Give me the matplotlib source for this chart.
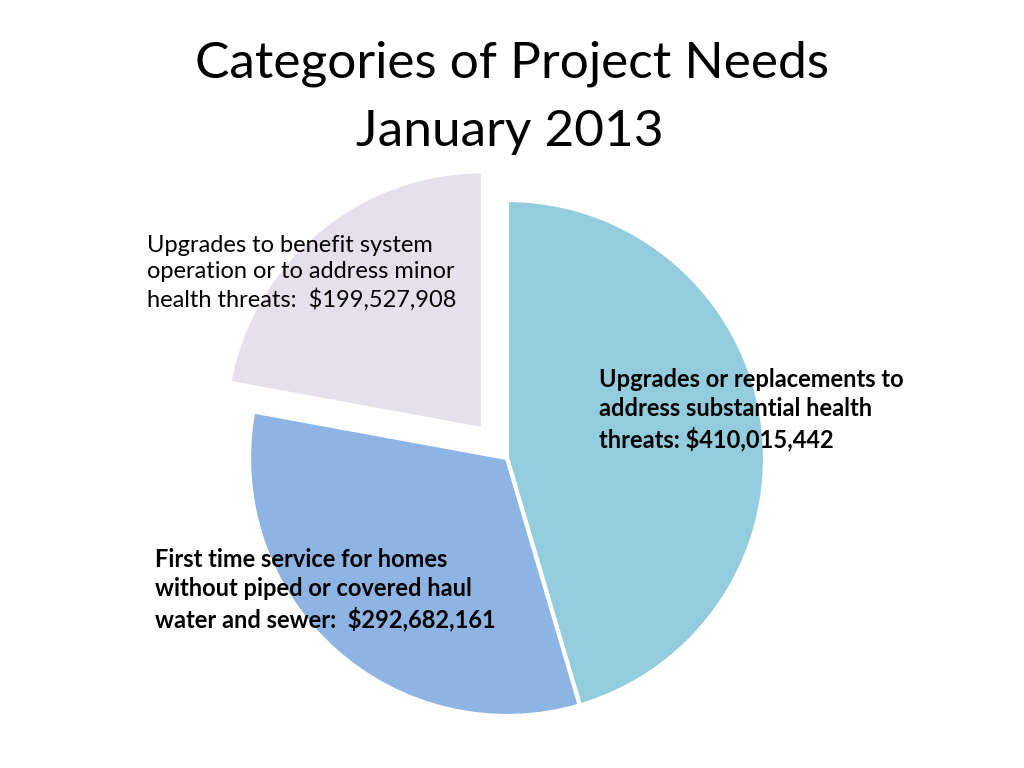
import matplotlib.pyplot as plt

# data
categories = [
    "Upgrades or replacements to\naddress substantial health\nthreats:",
    "First time service for homes\nwithout piped or covered haul\nwater and sewer: ",
    "Upgrades to benefit system\noperation or to address minor\nhealth threats: ",
]
values = [410015442, 292682161, 199527908]
colors = ["#93CDDD", "#8EB4E3", "#E6E0EC"]

plt.rcParams['font.family'] = ['Lato', 'DejaVu Sans']

fig = plt.figure(figsize=(10.24, 7.68), dpi=100)
ax = fig.add_axes([0, 0, 1, 1])

# pie in pixel-like coordinates (y up); explode is in data units here
r = 258
ax.pie(values, colors=colors, explode=[0, 0, 0.145 * r], startangle=90, counterclock=False,
       center=(507, 310), radius=r, frame=True,
       wedgeprops=dict(edgecolor='white', linewidth=3))
ax.set_xlim(0, 1024)
ax.set_ylim(0, 768)
ax.set_aspect('equal')
ax.axis('off')

# title
ax.text(512, 768 - 64, "Categories of Project Needs", ha='center', va='center', fontsize=37)
ax.text(510, 768 - 132, "January 2013", ha='center', va='center', fontsize=37)

# slice labels
ax.text(599, 768 - 410, categories[0] + " ${:,}".format(values[0]),
        ha='left', va='center', fontsize=17, fontweight='bold', linespacing=1.32)
ax.text(155, 768 - 590, categories[1] + " ${:,}".format(values[1]),
        ha='left', va='center', fontsize=17, fontweight='bold', linespacing=1.32)
ax.text(147, 768 - 273, categories[2] + " ${:,}".format(values[2]),
        ha='left', va='center', fontsize=17, linespacing=1.32)

fig.savefig("out.png", dpi=100)
